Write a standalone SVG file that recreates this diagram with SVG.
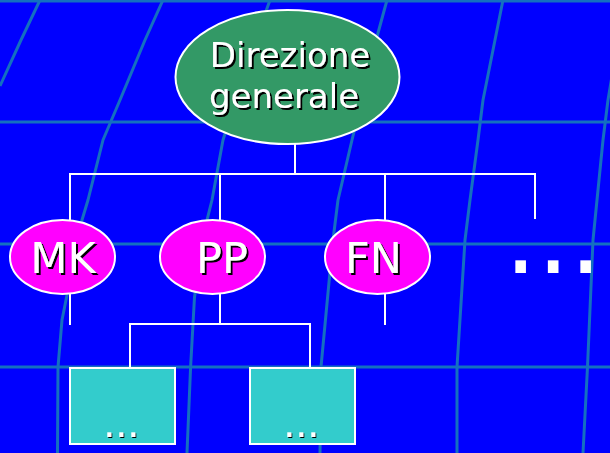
<svg xmlns="http://www.w3.org/2000/svg" width="610" height="453" viewBox="0 0 610 453">
<defs>
<filter id="shadow" x="-20%" y="-20%" width="140%" height="140%">
<feOffset in="SourceAlpha" dx="2" dy="2" result="off"/>
<feFlood flood-color="#000000"/>
<feComposite in2="off" operator="in" result="sh"/>
<feMerge><feMergeNode in="sh"/><feMergeNode in="SourceGraphic"/></feMerge>
</filter>
<filter id="shadow-s" x="-20%" y="-50%" width="140%" height="200%">
<feOffset in="SourceAlpha" dx="1.3" dy="1.3" result="off"/>
<feFlood flood-color="#000000"/>
<feComposite in2="off" operator="in" result="sh"/>
<feMerge><feMergeNode in="sh"/><feMergeNode in="SourceGraphic"/></feMerge>
</filter>
</defs>
<style>
.grid{fill:none;stroke:#1470C0;stroke-width:3;stroke-linejoin:round}
.conn{fill:none;stroke:#FFFFFF;stroke-width:2}
.ell{stroke:#FFFFFF;stroke-width:2}
.lbl{font-family:"DejaVu Sans",Verdana,sans-serif;text-anchor:middle;fill:#FFFFFF;filter:url(#shadow)}
.dots{font-family:"DejaVu Sans",Verdana,sans-serif;fill:#FFFFFF}
.sdots{filter:url(#shadow-s)}
.box{fill:#33CCCC;stroke:#FFFFFF;stroke-width:2}
</style>
<rect x="0" y="0" width="610" height="453" fill="#0000FF"/>
<g id="background-grid">
<line class="grid" x1="0" y1="1" x2="610" y2="1"/>
<line class="grid" x1="0" y1="122" x2="610" y2="122"/>
<line class="grid" x1="0" y1="244" x2="610" y2="244"/>
<line class="grid" x1="0" y1="367" x2="610" y2="367"/>
<polyline class="grid" points="40,0 21,40 0,86"/>
<polyline class="grid" points="163,0 145,40 120,100 103,140 88,200 82,220 62,320 58,367 57.5,453"/>
<polyline class="grid" points="270,0 245,70 223,140 212,200 207,220 194.5,297 190.6,367 187,453"/>
<polyline class="grid" points="387,0 378,33 352,140 338,200 333,240 321,367 320,453"/>
<polyline class="grid" points="503,0 495,40 483,100 478,140 470,200 465,240 457,367 457,453"/>
<polyline class="grid" points="613,70 608,100 603,140 597,200 593,240 587.5,367 583,453"/>
</g>
<g id="connectors">
<line class="conn" x1="295" y1="144" x2="295" y2="174"/>
<line class="conn" x1="69" y1="174" x2="536" y2="174"/>
<line class="conn" x1="70" y1="174" x2="70" y2="221"/>
<line class="conn" x1="220" y1="174" x2="220" y2="221"/>
<line class="conn" x1="385" y1="174" x2="385" y2="221"/>
<line class="conn" x1="535" y1="174" x2="535" y2="219"/>
<line class="conn" x1="70" y1="293" x2="70" y2="325"/>
<line class="conn" x1="385" y1="293" x2="385" y2="325"/>
<line class="conn" x1="220" y1="293" x2="220" y2="324"/>
<polyline class="conn" points="130,369 130,324 310,324 310,369"/>
</g>
<g id="node-direzione">
<ellipse class="ell" cx="287.5" cy="77" rx="112" ry="67" fill="#339966"/>
<text class="lbl" font-size="34" x="290" y="67">Direzione</text>
<text class="lbl" font-size="34" x="284" y="108">generale</text>
</g>
<g id="node-mk">
<ellipse class="ell" cx="62.5" cy="257" rx="52.5" ry="37" fill="#FF00FF"/>
<text class="lbl" font-size="43" x="63" y="273">MK</text>
</g>
<g id="node-pp">
<ellipse class="ell" cx="212.5" cy="257" rx="52.5" ry="37" fill="#FF00FF"/>
<text class="lbl" font-size="43" x="222" y="273">PP</text>
</g>
<g id="node-fn">
<ellipse class="ell" cx="377.5" cy="257" rx="52.5" ry="37" fill="#FF00FF"/>
<text class="lbl" font-size="43" x="373.5" y="273">FN</text>
</g>
<g id="node-more">
<text class="dots" font-size="102" x="504.6" y="273">...</text>
</g>
<g id="node-box1">
<rect class="box" x="70" y="368" width="105" height="76"/>
<text class="dots sdots" font-size="38" x="103.2" y="437">...</text>
</g>
<g id="node-box2">
<rect class="box" x="250" y="368" width="105" height="76"/>
<text class="dots sdots" font-size="38" x="283.2" y="437">...</text>
</g>
</svg>
